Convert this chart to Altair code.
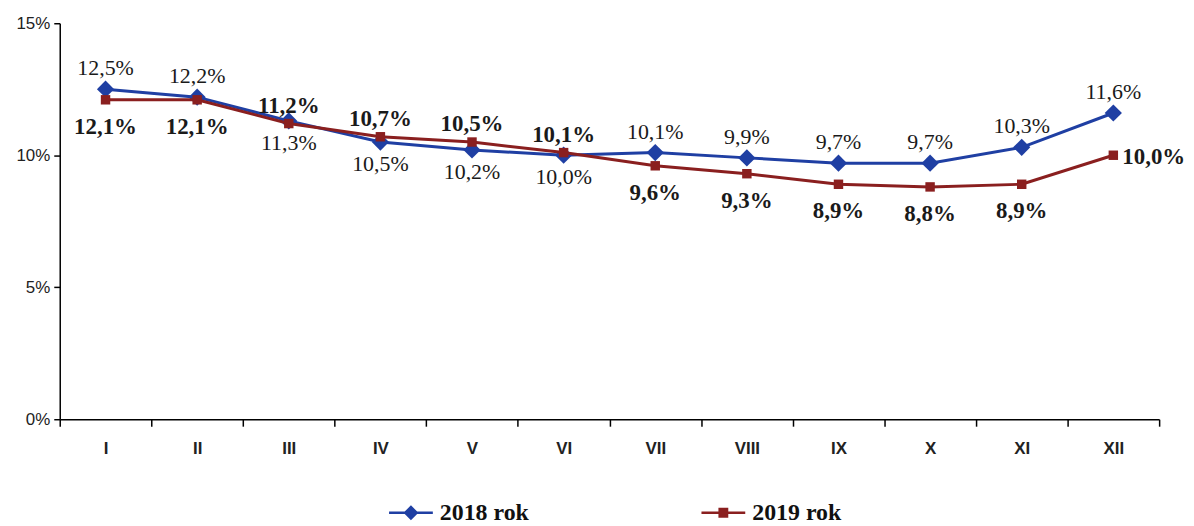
import altair as alt
import pandas as pd

months = ["I", "II", "III", "IV", "V", "VI", "VII", "VIII", "IX", "X", "XI", "XII"]
series_names = ["2018 rok", "2019 rok"]
v2018 = [12.5, 12.2, 11.3, 10.5, 10.2, 10.0, 10.1, 9.9, 9.7, 9.7, 10.3, 11.6]
v2019 = [12.1, 12.1, 11.2, 10.7, 10.5, 10.1, 9.6, 9.3, 8.9, 8.8, 8.9, 10.0]
pos2018 = ["above", "above", "below", "below", "below", "below",
           "above", "above", "above", "above", "above", "above"]
pos2019 = ["below", "below", "above", "above", "above", "above",
           "below", "below", "below", "below", "below", "right"]
y_ticks = [0, 5, 10, 15]

colors = {"2018 rok": "#1f3fa3", "2019 rok": "#8a1f1f"}

rows = []
for s, vals, pos in zip(series_names, [v2018, v2019], [pos2018, pos2019]):
    for m, v, p in zip(months, vals, pos):
        rows.append({"month": m, "series": s, "value": v, "pos": p})
df = pd.DataFrame(rows)

x = alt.X(
    "month:N", sort=months,
    scale=alt.Scale(paddingInner=0, paddingOuter=0),
    axis=alt.Axis(title=None, tickBand="extent", labelAngle=0, tickSize=7,
                  labelPadding=14, labelFont="Liberation Sans Narrow, Liberation Sans",
                  labelFontSize=17, labelFontWeight="bold",
                  labelColor="#222", domainColor="#000", tickColor="#000",
                  domainWidth=1.5, tickWidth=1.5, grid=False),
)
y = alt.Y(
    "value:Q", scale=alt.Scale(domain=[0, 15]),
    axis=alt.Axis(title=None, values=y_ticks, labelExpr="datum.value + '%'",
                  grid=False, tickSize=6, labelFont="Liberation Sans",
                  labelFontSize=17, labelColor="#222", domainColor="#000",
                  tickColor="#000", domainWidth=1.5, tickWidth=1.5,
                  labelPadding=4, minExtent=48, maxExtent=48),
)

base = alt.Chart(df).encode(x=x, y=y)

label_expr = "replace(format(datum.value, '.1f'), '.', ',') + '%'"

layers = []
for s, shape, size in [("2018 rok", "diamond", 300), ("2019 rok", "square", 90)]:
    sub = base.transform_filter(f"datum.series == '{s}'")
    layers.append(sub.mark_line(strokeWidth=3, color=colors[s]))
    layers.append(sub.mark_point(filled=True, opacity=1, shape=shape, size=size,
                                 color=colors[s]))


def labels(series, pos, dy, dx=0, bold=False, align="center"):
    return (
        base.transform_filter(f"datum.series == '{series}' && datum.pos == '{pos}'")
        .transform_calculate(label=label_expr)
        .mark_text(dy=dy, dx=dx, align=align, baseline="middle",
                   font="Liberation Serif", fontSize=23 if bold else 22,
                   fontWeight="bold" if bold else "normal", color="#1a1a1a")
        .encode(text="label:N")
    )


layers += [
    labels("2018 rok", "above", -21),
    labels("2018 rok", "below", 22),
    labels("2019 rok", "above", -18, bold=True),
    labels("2019 rok", "below", 27, bold=True),
    labels("2019 rok", "right", 2, dx=9, bold=True, align="left"),
]

line_diamond = "M-2,-0.12L2,-0.12L2,0.12L-2,0.12Z M0,-0.68L0.68,0L0,0.68L-0.68,0Z"
line_square = "M-2,-0.12L2,-0.12L2,0.12L-2,0.12Z M-0.45,-0.45L0.45,-0.45L0.45,0.45L-0.45,0.45Z"

leg = alt.Legend(title=None, orient="none", legendX=341, legendY=480,
                 direction="horizontal", symbolSize=484, symbolStrokeWidth=0,
                 symbolOpacity=1, labelFont="Liberation Serif", labelFontSize=24,
                 labelFontWeight="bold", labelColor="#111", columnPadding=173,
                 labelOffset=17)

ghost = (
    alt.Chart(df)
    .transform_filter("false")
    .mark_point(filled=True)
    .encode(
        color=alt.Color("series:N", scale=alt.Scale(domain=series_names,
                        range=[colors[s] for s in series_names]), legend=leg),
        shape=alt.Shape("series:N", scale=alt.Scale(domain=series_names,
                        range=[line_diamond, line_square]), legend=leg),
    )
)
layers.append(ghost)

chart = (
    alt.layer(*layers)
    .properties(width=1105, height=398,
                padding={"left": 4, "top": 5, "right": 0, "bottom": 0},
                background="white")
    .configure_view(stroke=None)
)

chart.save("out.html", embed_options={"renderer": "svg", "actions": False})
